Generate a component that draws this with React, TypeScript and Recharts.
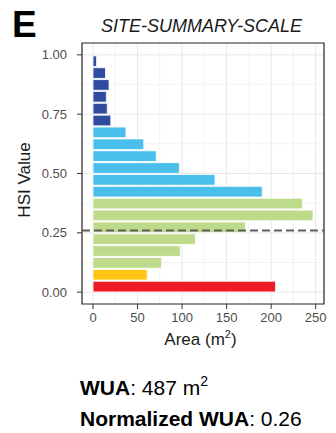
import {
  BarChart,
  Bar,
  XAxis,
  YAxis,
  CartesianGrid,
  ReferenceLine,
  ReferenceArea,
  Cell,
} from "recharts";

// lower edge of each HSI bin (bin width 0.05)
const hsiBins = [
  0, 0.05, 0.1, 0.15, 0.2, 0.25, 0.3, 0.35, 0.4, 0.45,
  0.5, 0.55, 0.6, 0.65, 0.7, 0.75, 0.8, 0.85, 0.9, 0.95,
];
// area (m2) in each bin
const areaM2 = [
  205, 61, 77, 98, 115, 171, 247, 235, 190, 137,
  97, 71, 57, 37, 20, 16, 15, 18, 14, 4,
];

const xTicks = [0, 50, 100, 150, 200, 250];
const xMinorTicks = [25, 75, 125, 175, 225];
const yTicks = [0, 0.25, 0.5, 0.75, 1];
const yMinorTicks = [0.125, 0.375, 0.625, 0.875];

const wua = 487;
const normalizedWua = 0.26;

const BIN_WIDTH = 0.05;
const X_DOMAIN = [-12.35, 259.35];
const Y_DOMAIN = [-0.05, 1.05];

const data = hsiBins.map((h, i) => ({ lo: h, mid: h + BIN_WIDTH / 2, area: areaM2[i] }));

function binColor(h: number) {
  if (h < 0.05) return "#ed1c24";
  if (h < 0.1) return "#ffc714";
  if (h < 0.4) return "#bddb8a";
  if (h < 0.7) return "#4bbfeb";
  return "#2f4b9d";
}

const font = "'Liberation Sans', Arial, Helvetica, sans-serif";

// plot is 261px tall for 1.1 units of HSI
const barPx = (261 / 1.1) * BIN_WIDTH;

export default function App() {
  return (
    <div style={{ position: "absolute", left: 0, top: 0, width: 336, height: 433, background: "#fff", fontFamily: font }}>
      <BarChart
        width={336}
        height={433}
        data={data}
        layout="vertical"
        barCategoryGap={0}
        barSize={barPx}
        margin={{ top: 43, right: 12, bottom: 99, left: 0 }}
      >
        <CartesianGrid
          stroke="#f3f3f3"
          strokeWidth={1}
          verticalValues={xMinorTicks}
          horizontalValues={yMinorTicks}
        />
        <CartesianGrid
          stroke="#e8e8e8"
          strokeWidth={1}
          verticalValues={xTicks}
          horizontalValues={yTicks}
        />
        <XAxis
          type="number"
          domain={X_DOMAIN}
          ticks={xTicks}
          allowDataOverflow
          axisLine={false}
          tickLine={{ stroke: "#333" }}
          tickSize={5}
          tickMargin={4}
          height={30}
          tick={{ fontSize: 13, fill: "#4d4d4d", fontFamily: font }}
        />
        <YAxis
          type="number"
          dataKey="mid"
          domain={Y_DOMAIN}
          ticks={yTicks}
          reversed
          allowDataOverflow
          width={82}
          axisLine={false}
          tickLine={{ stroke: "#333" }}
          tickSize={5}
          tickMargin={10}
          tickFormatter={(v: number) => v.toFixed(2)}
          tick={{ fontSize: 13, fill: "#4d4d4d", fontFamily: font }}
        />
        <Bar dataKey="area" stroke="#ffffff" strokeWidth={0.8} isAnimationActive={false}>
          {data.map((d, i) => (
            <Cell key={i} fill={binColor(d.lo)} />
          ))}
        </Bar>
        <ReferenceLine
          y={normalizedWua}
          stroke="#5e5e5e"
          strokeWidth={2}
          strokeDasharray="8 4"
        />
        <ReferenceArea
          x1={X_DOMAIN[0]}
          x2={X_DOMAIN[1]}
          y1={Y_DOMAIN[0]}
          y2={Y_DOMAIN[1]}
          fill="none"
          fillOpacity={0}
          stroke="#222"
          strokeWidth={1.2}
          ifOverflow="visible"
        />
      </BarChart>
      <svg
        width={336}
        height={433}
        style={{ position: "absolute", left: 0, top: 0, pointerEvents: "none", fontFamily: font }}
      >
        <text x={12} y={37} fontSize={37} fontWeight="bold" fill="#000">E</text>
        <text x={201.5} y={31.5} fontSize={18} fontStyle="italic" textAnchor="middle" fill="#1a1a1a">
          SITE-SUMMARY-SCALE
        </text>
        <text x={30} y={180} fontSize={17} textAnchor="middle" fill="#1a1a1a" transform="rotate(-90, 30, 180)">
          HSI Value
        </text>
        <text x={200.5} y={345} fontSize={17} textAnchor="middle" fill="#1a1a1a">
          Area (m<tspan fontSize={11} dy={-7}>2</tspan>
          <tspan dy={7}>)</tspan>
        </text>
        <text x={80} y={395} fontSize={21} fill="#000">
          <tspan fontWeight="bold">WUA</tspan>: {wua} m
          <tspan fontSize={14} dy={-9}>2</tspan>
        </text>
        <text x={80} y={426} fontSize={21} fill="#000">
          <tspan fontWeight="bold">Normalized WUA</tspan>: {normalizedWua.toFixed(2)}
        </text>
      </svg>
    </div>
  );
}
